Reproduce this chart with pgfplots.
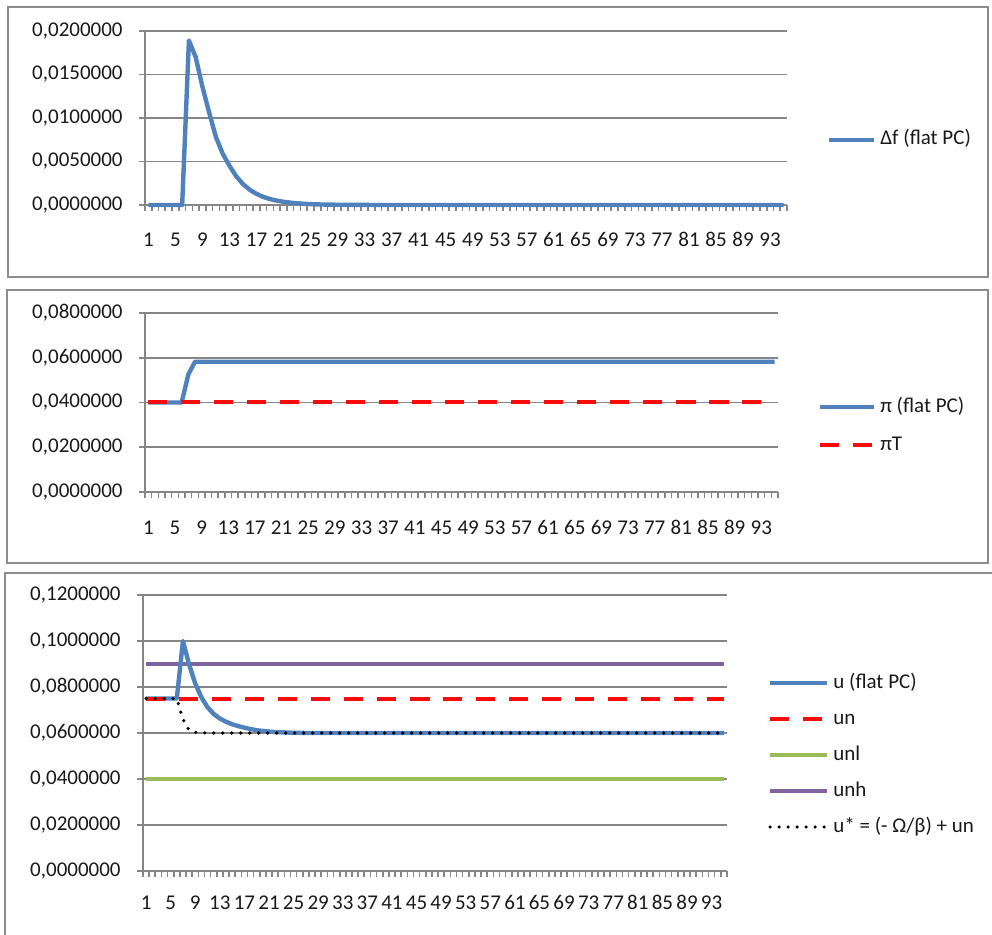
\documentclass[border=0pt]{standalone}
\usepackage{fontspec}
\setmainfont{Carlito}
\usepackage{pgfplots}
\usepackage{pgfplotstable}
\pgfplotsset{compat=1.18}

\definecolor{xlblue}{RGB}{79,129,189}
\definecolor{xlred}{RGB}{250,10,10}
\definecolor{xlgreen}{RGB}{155,187,89}
\definecolor{xlpurple}{RGB}{128,100,162}
\definecolor{xlgrid}{RGB}{134,134,134}
\definecolor{xlframe}{RGB}{140,140,140}

\pgfplotstableread{
t df pi piT u un unl unh ustar
1 0 0.04 0.04 0.075 0.075 0.04 0.09 0.075
2 0 0.04 0.04 0.075 0.075 0.04 0.09 0.075
3 0 0.04 0.04 0.075 0.075 0.04 0.09 0.075
4 0 0.04 0.04 0.075 0.075 0.04 0.09 0.075
5 0 0.04 0.04 0.075 0.075 0.04 0.09 0.075
6 0 0.04 0.04 0.075 0.075 0.04 0.09 0.075
7 0.0189 0.0525 0.04 0.1000 0.075 0.04 0.09 0.0660
8 0.0170 0.0582 0.04 0.0898 0.075 0.04 0.09 0.0612
9 0.0136 0.0582 0.04 0.0815 0.075 0.04 0.09 0.0603
10 0.0106 0.0582 0.04 0.0755 0.075 0.04 0.09 0.0601
11 0.0078 0.0582 0.04 0.0712 0.075 0.04 0.09 0.0600
12 0.0059 0.0582 0.04 0.0683 0.075 0.04 0.09 0.0600
13 0.0045 0.0582 0.04 0.0663 0.075 0.04 0.09 0.0600
14 0.0033 0.0582 0.04 0.0649 0.075 0.04 0.09 0.0600
15 0.0024 0.0582 0.04 0.0638 0.075 0.04 0.09 0.0600
16 0.00175 0.0582 0.04 0.0630 0.075 0.04 0.09 0.0600
17 0.00128 0.0582 0.04 0.0623 0.075 0.04 0.09 0.0600
18 0.00093 0.0582 0.04 0.0617 0.075 0.04 0.09 0.0600
19 0.00068 0.0582 0.04 0.0612 0.075 0.04 0.09 0.0600
20 0.00050 0.0582 0.04 0.0609 0.075 0.04 0.09 0.0600
21 0.00037 0.0582 0.04 0.0606 0.075 0.04 0.09 0.0600
22 0.00027 0.0582 0.04 0.0604 0.075 0.04 0.09 0.0600
23 0.00020 0.0582 0.04 0.0603 0.075 0.04 0.09 0.0600
24 0.00014 0.0582 0.04 0.0602 0.075 0.04 0.09 0.0600
25 0.00010 0.0582 0.04 0.0601 0.075 0.04 0.09 0.0600
26 0.00007 0.0582 0.04 0.0601 0.075 0.04 0.09 0.0600
27 0.00005 0.0582 0.04 0.0600 0.075 0.04 0.09 0.0600
28 0.00004 0.0582 0.04 0.0600 0.075 0.04 0.09 0.0600
29 0.00003 0.0582 0.04 0.0600 0.075 0.04 0.09 0.0600
30 0.00002 0.0582 0.04 0.0600 0.075 0.04 0.09 0.0600
31 0.000015 0.0582 0.04 0.0600 0.075 0.04 0.09 0.0600
32 0.00001 0.0582 0.04 0.0600 0.075 0.04 0.09 0.0600
33 0.000007 0.0582 0.04 0.0600 0.075 0.04 0.09 0.0600
34 0.000005 0.0582 0.04 0.0600 0.075 0.04 0.09 0.0600
35 0.000003 0.0582 0.04 0.0600 0.075 0.04 0.09 0.0600
36 0.000002 0.0582 0.04 0.0600 0.075 0.04 0.09 0.0600
37 0 0.0582 0.04 0.0600 0.075 0.04 0.09 0.0600
38 0 0.0582 0.04 0.0600 0.075 0.04 0.09 0.0600
39 0 0.0582 0.04 0.0600 0.075 0.04 0.09 0.0600
40 0 0.0582 0.04 0.0600 0.075 0.04 0.09 0.0600
41 0 0.0582 0.04 0.0600 0.075 0.04 0.09 0.0600
42 0 0.0582 0.04 0.0600 0.075 0.04 0.09 0.0600
43 0 0.0582 0.04 0.0600 0.075 0.04 0.09 0.0600
44 0 0.0582 0.04 0.0600 0.075 0.04 0.09 0.0600
45 0 0.0582 0.04 0.0600 0.075 0.04 0.09 0.0600
46 0 0.0582 0.04 0.0600 0.075 0.04 0.09 0.0600
47 0 0.0582 0.04 0.0600 0.075 0.04 0.09 0.0600
48 0 0.0582 0.04 0.0600 0.075 0.04 0.09 0.0600
49 0 0.0582 0.04 0.0600 0.075 0.04 0.09 0.0600
50 0 0.0582 0.04 0.0600 0.075 0.04 0.09 0.0600
51 0 0.0582 0.04 0.0600 0.075 0.04 0.09 0.0600
52 0 0.0582 0.04 0.0600 0.075 0.04 0.09 0.0600
53 0 0.0582 0.04 0.0600 0.075 0.04 0.09 0.0600
54 0 0.0582 0.04 0.0600 0.075 0.04 0.09 0.0600
55 0 0.0582 0.04 0.0600 0.075 0.04 0.09 0.0600
56 0 0.0582 0.04 0.0600 0.075 0.04 0.09 0.0600
57 0 0.0582 0.04 0.0600 0.075 0.04 0.09 0.0600
58 0 0.0582 0.04 0.0600 0.075 0.04 0.09 0.0600
59 0 0.0582 0.04 0.0600 0.075 0.04 0.09 0.0600
60 0 0.0582 0.04 0.0600 0.075 0.04 0.09 0.0600
61 0 0.0582 0.04 0.0600 0.075 0.04 0.09 0.0600
62 0 0.0582 0.04 0.0600 0.075 0.04 0.09 0.0600
63 0 0.0582 0.04 0.0600 0.075 0.04 0.09 0.0600
64 0 0.0582 0.04 0.0600 0.075 0.04 0.09 0.0600
65 0 0.0582 0.04 0.0600 0.075 0.04 0.09 0.0600
66 0 0.0582 0.04 0.0600 0.075 0.04 0.09 0.0600
67 0 0.0582 0.04 0.0600 0.075 0.04 0.09 0.0600
68 0 0.0582 0.04 0.0600 0.075 0.04 0.09 0.0600
69 0 0.0582 0.04 0.0600 0.075 0.04 0.09 0.0600
70 0 0.0582 0.04 0.0600 0.075 0.04 0.09 0.0600
71 0 0.0582 0.04 0.0600 0.075 0.04 0.09 0.0600
72 0 0.0582 0.04 0.0600 0.075 0.04 0.09 0.0600
73 0 0.0582 0.04 0.0600 0.075 0.04 0.09 0.0600
74 0 0.0582 0.04 0.0600 0.075 0.04 0.09 0.0600
75 0 0.0582 0.04 0.0600 0.075 0.04 0.09 0.0600
76 0 0.0582 0.04 0.0600 0.075 0.04 0.09 0.0600
77 0 0.0582 0.04 0.0600 0.075 0.04 0.09 0.0600
78 0 0.0582 0.04 0.0600 0.075 0.04 0.09 0.0600
79 0 0.0582 0.04 0.0600 0.075 0.04 0.09 0.0600
80 0 0.0582 0.04 0.0600 0.075 0.04 0.09 0.0600
81 0 0.0582 0.04 0.0600 0.075 0.04 0.09 0.0600
82 0 0.0582 0.04 0.0600 0.075 0.04 0.09 0.0600
83 0 0.0582 0.04 0.0600 0.075 0.04 0.09 0.0600
84 0 0.0582 0.04 0.0600 0.075 0.04 0.09 0.0600
85 0 0.0582 0.04 0.0600 0.075 0.04 0.09 0.0600
86 0 0.0582 0.04 0.0600 0.075 0.04 0.09 0.0600
87 0 0.0582 0.04 0.0600 0.075 0.04 0.09 0.0600
88 0 0.0582 0.04 0.0600 0.075 0.04 0.09 0.0600
89 0 0.0582 0.04 0.0600 0.075 0.04 0.09 0.0600
90 0 0.0582 0.04 0.0600 0.075 0.04 0.09 0.0600
91 0 0.0582 0.04 0.0600 0.075 0.04 0.09 0.0600
92 0 0.0582 0.04 0.0600 0.075 0.04 0.09 0.0600
93 0 0.0582 0.04 0.0600 0.075 0.04 0.09 0.0600
94 0 0.0582 0.04 0.0600 0.075 0.04 0.09 0.0600
95 0 0.0582 0.04 0.0600 0.075 0.04 0.09 0.0600
}\datatable

\pgfplotsset{
  xlstyle/.style={
    scale only axis,
    xmin=0.5, xmax=95.5, ymin=0,
    clip=false,
    axis x line*=bottom, axis y line*=left,
    axis line style={xlgrid, line width=1.3pt},
    every tick/.style={xlgrid, line width=0.8pt},
    tick align=outside,
    major tick length=0pt,
    minor tick length=3pt,
    xtick={1,5,...,93},
    minor xtick={0.5,1.5,...,95.5},
    ymajorgrids,
    grid style={xlgrid, line width=0.8pt},
    scaled y ticks=false,
    tick label style={font=\fontsize{10.5}{12}\selectfont, text=black!90},
    /pgf/number format/assume math mode=true,
    yticklabel style={/pgf/number format/.cd, fixed, fixed zerofill, precision=7, use comma, /tikz/.cd, anchor=east, inner sep=0pt, xshift=-11pt},
    xticklabel style={anchor=base, inner sep=0pt},
    legend cell align=left,
    legend style={draw=none, fill=none, anchor=west, inner sep=0pt, outer sep=0pt,
      font=\fontsize{10.5}{12}\selectfont, text=black!90,
      nodes={inner xsep=2pt, inner ysep=0pt, text height=7.5pt, text depth=2.5pt}},
  },
  blueline/.style={xlblue, line width=2.2pt, line join=round},
  reddash/.style={xlred, line width=2pt, dash pattern=on 9.5pt off 7pt},
  greenline/.style={xlgreen, line width=1.9pt},
  purpleline/.style={xlpurple, line width=1.9pt},
  blackdots/.style={black, line width=1.8pt, line cap=round, dash pattern=on 0pt off 4.5pt},
}

\begin{document}
\begin{tikzpicture}
\useasboundingbox (0,0) rectangle (496pt,467pt);
% chart frames
\draw[xlframe, line width=1pt] (4pt,463.5pt) rectangle (494pt,328.5pt);
\draw[xlframe, line width=1pt] (3.5pt,322pt) rectangle (494pt,185.5pt);
\draw[xlframe, line width=1pt] (2.5pt,180.5pt) rectangle (500pt,-5pt);

% Panel 1
\begin{axis}[xlstyle,
  at={(72.5pt,364.5pt)}, anchor=south west,
  width=321pt, height=87pt,
  ymax=0.02,
  ytick={0,0.005,0.01,0.015,0.02},
  minor ytick={0,0.005,0.01,0.015,0.02},
  xticklabel style={yshift=-20.75pt},
  legend style={at={(1.0623,0.3736)}},
  legend image code/.code={\draw[#1] (0pt,0pt) -- (22.5pt,0pt);},
]
\addplot[blueline] table[x=t, y=df] {\datatable};
\addlegendentry{Δf (flat PC)}
\end{axis}

% Panel 2
\begin{axis}[xlstyle,
  at={(72.5pt,221pt)}, anchor=south west,
  width=316.5pt, height=89.5pt,
  ymax=0.08,
  ytick={0,0.02,0.04,0.06,0.08},
  minor ytick={0,0.02,0.04,0.06,0.08},
  xticklabel style={yshift=-21.25pt},
  legend style={at={(1.0632,0.3687)}, row sep=9pt},
  legend image code/.code={\draw[#1] (0pt,0pt) -- (27pt,0pt);},
]
\addplot[blueline] table[x=t, y=pi] {\datatable};
\addlegendentry{π (flat PC)}
\addplot[reddash] table[x=t, y=piT] {\datatable};
\addlegendentry{πT}
\end{axis}

% Panel 3
\begin{axis}[xlstyle,
  at={(71.5pt,31.5pt)}, anchor=south west,
  width=292pt, height=138pt,
  ymax=0.12,
  ytick={0,0.02,0.04,0.06,0.08,0.1,0.12},
  minor ytick={0,0.02,0.04,0.06,0.08,0.1,0.12},
  xticklabel style={yshift=-19.25pt},
  legend style={at={(1.0702,0.4203)}, row sep=8pt},
  legend image code/.code={\draw[#1] (0pt,0pt) -- (28.5pt,0pt);},
]
\addlegendimage{blueline}
\addlegendentry{u (flat PC)}
\addlegendimage{reddash}
\addlegendentry{un}
\addlegendimage{greenline}
\addlegendentry{unl}
\addlegendimage{purpleline}
\addlegendentry{unh}
\addlegendimage{blackdots}
\addlegendentry{u* = (- Ω/β) + un}
\addplot[greenline, forget plot] table[x=t, y=unl] {\datatable};
\addplot[purpleline, forget plot] table[x=t, y=unh] {\datatable};
\addplot[blueline, forget plot] table[x=t, y=u] {\datatable};
\addplot[reddash, forget plot] table[x=t, y=un] {\datatable};
\addplot[blackdots, forget plot] table[x=t, y=ustar] {\datatable};
\end{axis}
\end{tikzpicture}
\end{document}
